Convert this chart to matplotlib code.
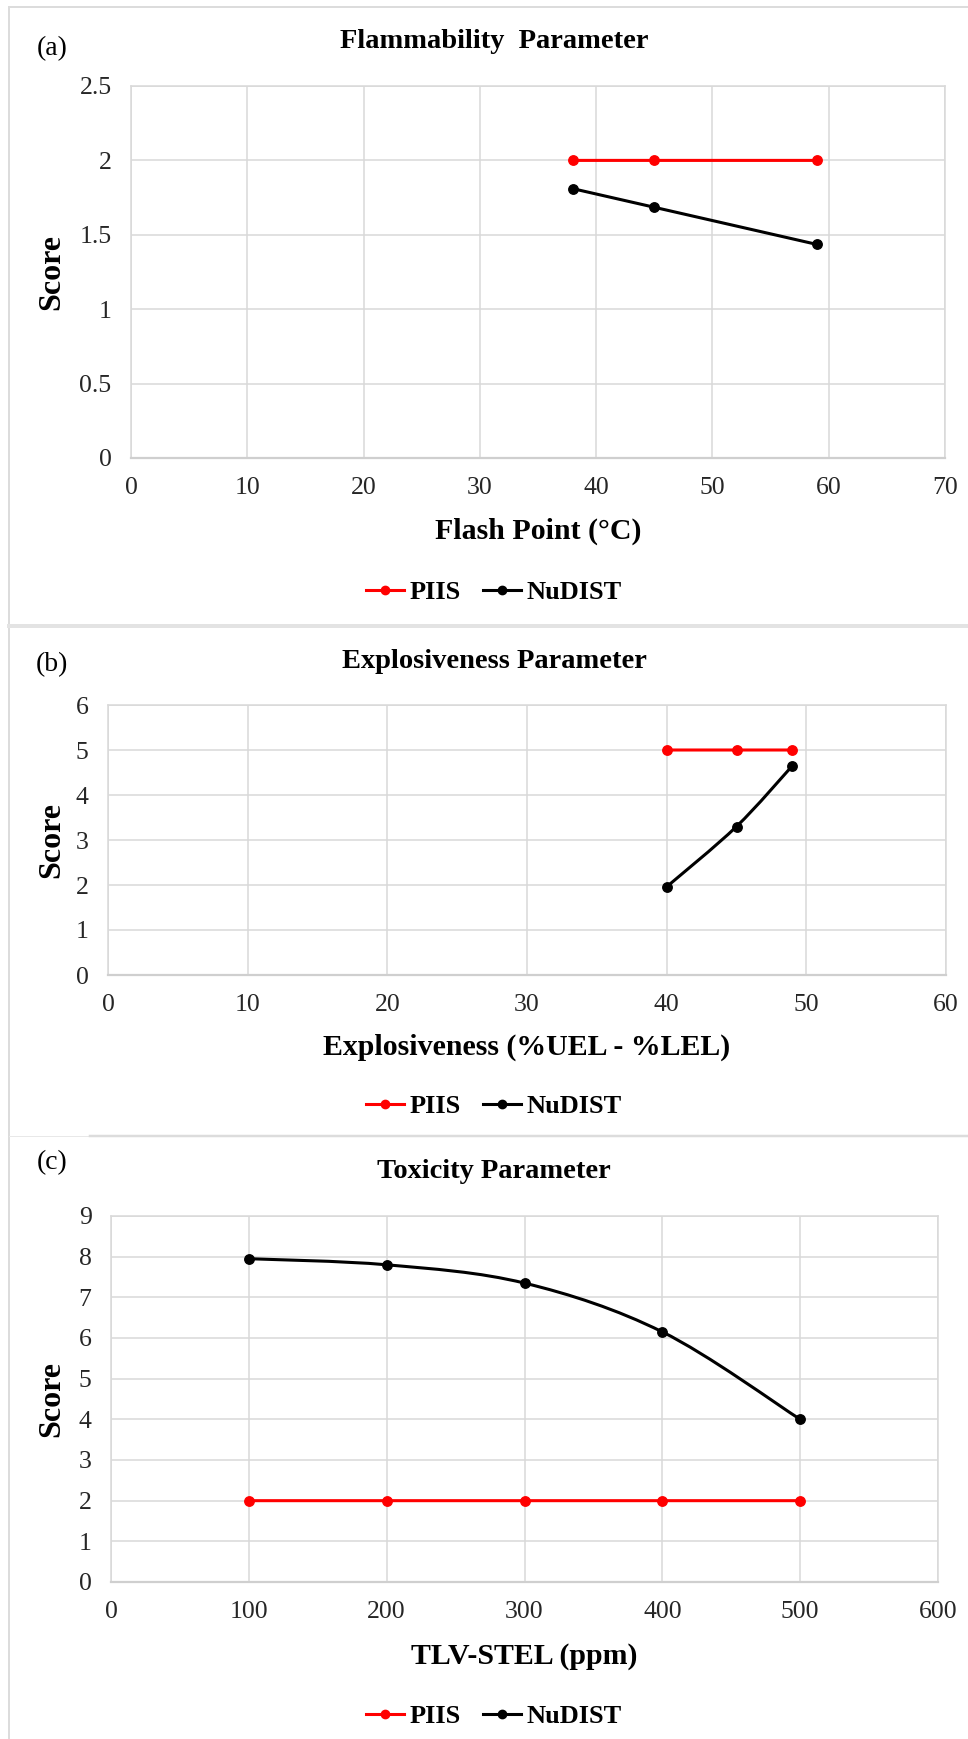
import matplotlib
matplotlib.use("Agg")
import matplotlib.pyplot as plt
from matplotlib.path import Path
from matplotlib.patches import PathPatch
from matplotlib.lines import Line2D
from matplotlib.ticker import FuncFormatter
import numpy as np

# ---- data ----
flash_x = [38, 45, 59]
flash_piis = [2, 2, 2]
flash_nudist = [1.81, 1.685, 1.435]

expl_x = [40, 45, 49]
expl_piis = [5, 5, 5]
expl_nudist = [1.96, 3.3, 4.65]

tox_x = [100, 200, 300, 400, 500]
tox_piis = [2, 2, 2, 2, 2]
tox_nudist = [7.95, 7.8, 7.35, 6.15, 4.0]

series_names = ["PIIS", "NuDIST"]

W, H = 968, 1739
plt.rcParams['font.family'] = ['Liberation Serif', 'DejaVu Serif']
fig = plt.figure(figsize=(W / 100, H / 100), dpi=100)

GRID = '#d9d9d9'


def fx(x):
    return x / W


def fy(y):
    return 1 - y / H


def smooth_path(xs, ys):
    # excel-like smoothed line: catmull-rom converted to cubic beziers
    pts = np.column_stack([xs, ys]).astype(float)
    n = len(pts)
    verts = [pts[0]]
    codes = [Path.MOVETO]
    for i in range(n - 1):
        p0 = pts[i - 1] if i > 0 else pts[i]
        p1 = pts[i]
        p2 = pts[i + 1]
        p3 = pts[i + 2] if i + 2 < n else pts[i + 1]
        c1 = p1 + (p2 - p0) / 6.0
        c2 = p2 - (p3 - p1) / 6.0
        verts += [c1, c2, p2]
        codes += [Path.CURVE4] * 3
    return Path(verts, codes)


def panel(box, tag, title, xs, piis, nudist, xlim, xstep, ylim, ystep, xlabel,
          xlab_y, leg_y, title_y, tag_y):
    l, t, r, b = box
    ax = fig.add_axes([fx(l), fy(b), fx(r) - fx(l), fy(t) - fy(b)])
    ax.set_xlim(*xlim)
    ax.set_ylim(*ylim)
    ax.set_xticks(np.arange(xlim[0], xlim[1] + xstep / 2, xstep))
    ax.set_yticks(np.arange(ylim[0], ylim[1] + ystep / 2, ystep))
    fmt = FuncFormatter(lambda v, p: f'{v:g}')
    ax.xaxis.set_major_formatter(fmt)
    ax.yaxis.set_major_formatter(fmt)
    ax.grid(True, color=GRID, linewidth=1.1)
    ax.set_axisbelow(True)
    for s in ax.spines.values():
        s.set_color(GRID)
        s.set_linewidth(1.1)
    ax.spines['bottom'].set_color('#cfcfcf')
    ax.spines['bottom'].set_linewidth(1.6)
    ax.tick_params(length=0, labelsize=18.5, colors='#262626')
    ax.tick_params(axis='x', pad=14)
    ax.tick_params(axis='y', pad=14)

    for ys, col in [(piis, '#ff0000'), (nudist, '#000000')]:
        ax.add_patch(PathPatch(smooth_path(xs, ys), facecolor='none',
                               edgecolor=col, linewidth=2.2, zorder=3))
        ax.plot(xs, ys, linestyle='none', marker='o', markersize=6.8,
                color=col, zorder=4)

    ax.set_xlabel(xlabel, fontsize=21.5, fontweight='bold', va='center')
    ax.xaxis.set_label_coords((l + r) / 2 / W, fy(xlab_y), transform=fig.transFigure)
    ax.set_ylabel('Score', fontsize=23, fontweight='bold', va='center')
    ax.yaxis.set_label_coords(52 / W, fy((t + b) / 2), transform=fig.transFigure)

    fig.text(fx(494), fy(title_y), title, fontsize=20.5, fontweight='bold',
             ha='center', va='center')
    fig.text(fx(52), fy(tag_y), tag, fontsize=20, ha='center', va='center')

    handles = [Line2D([], [], color='#ff0000', lw=2.2, marker='o', markersize=6),
               Line2D([], [], color='#000000', lw=2.2, marker='o', markersize=6)]
    fig.legend(handles, series_names, loc='center',
               bbox_to_anchor=(fx(494), fy(leg_y)), ncol=2, frameon=False,
               numpoints=1, handlelength=1.45, handletextpad=0.2,
               columnspacing=0.85, prop={'size': 19, 'weight': 'bold'})
    return ax


panel((131, 86, 945, 458), '(a)', 'Flammability  Parameter', flash_x, flash_piis,
      flash_nudist, (0, 70), 10, (0, 2.5), 0.5, 'Flash Point (°C)',
      531, 592, 42, 49)
panel((108, 705, 946, 975), '(b)', 'Explosiveness Parameter', expl_x, expl_piis,
      expl_nudist, (0, 60), 10, (0, 6), 1, 'Explosiveness (%UEL - %LEL)',
      1047, 1106, 662, 665)
panel((111, 1216, 938, 1582), '(c)', 'Toxicity Parameter', tox_x, tox_piis,
      tox_nudist, (0, 600), 100, (0, 9), 1, 'TLV-STEL (ppm)',
      1657, 1716, 1171, 1163)

# panel frames
frame = [((8.5, 7), (8.5, H), 2.0, '#dcdcdc'),
         ((8.5, 7), (W, 7), 2.0, '#dcdcdc'),
         ((8.5, 625.5), (W, 625.5), 4.0, '#e3e3e3'),
         ((8.5, 1136), (90, 1136), 1.0, '#e8e8e8'),
         ((90, 1136), (W, 1136), 2.5, '#dcdcdc')]
for p0, p1, lw, col in frame:
    fig.add_artist(Line2D([fx(p0[0]), fx(p1[0])], [fy(p0[1]), fy(p1[1])],
                          transform=fig.transFigure, color=col,
                          linewidth=lw * 0.72))

fig.savefig('out.png', dpi=100)
